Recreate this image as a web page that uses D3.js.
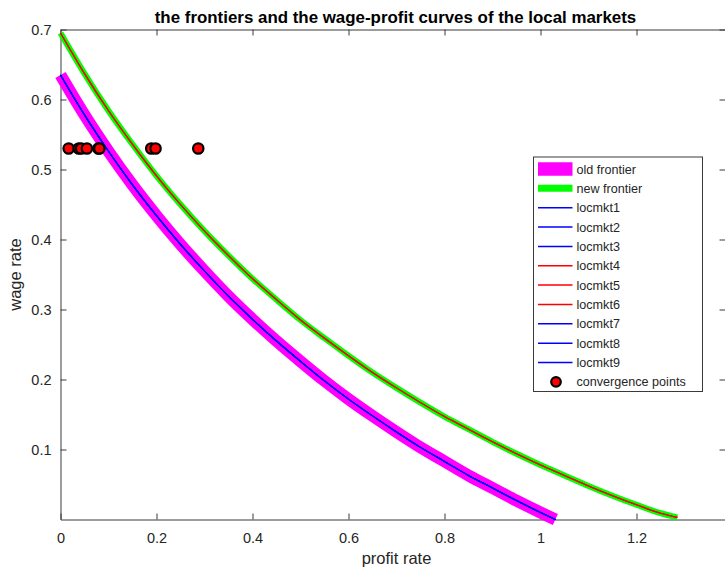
<!DOCTYPE html>
<html>
<head>
<meta charset="utf-8">
<script src="https://cdn.jsdelivr.net/npm/d3@7"></script>
<style>
  html, body { margin: 0; padding: 0; background: #ffffff; overflow: hidden; }
  text { font-family: "Liberation Sans", Arial, Helvetica, sans-serif; }
</style>
</head>
<body>
<svg id="chart" width="725" height="576"></svg>
<script>
// ---- data ---------------------------------------------------------------
// old frontier: wage rate against profit rate
const oldFrontierProfit = [0, 0.05, 0.1, 0.15, 0.2, 0.25, 0.3, 0.35, 0.4, 0.45, 0.5,
  0.55, 0.6, 0.65, 0.7, 0.75, 0.8, 0.85, 0.9, 0.95, 1.0, 1.031];
const oldFrontierWage = [0.635, 0.578, 0.526, 0.478, 0.434, 0.393, 0.355, 0.319, 0.286, 0.255, 0.226,
  0.198, 0.172, 0.148, 0.125, 0.103, 0.083, 0.063, 0.045, 0.027, 0.010, 0.0];

// new frontier
const newFrontierProfit = [0, 0.05, 0.1, 0.15, 0.2, 0.25, 0.3, 0.35, 0.4, 0.45, 0.5,
  0.55, 0.6, 0.65, 0.7, 0.75, 0.8, 0.85, 0.9, 0.95, 1.0, 1.05, 1.1, 1.15, 1.2, 1.25, 1.285];
const newFrontierWage = [0.695, 0.637, 0.584, 0.536, 0.491, 0.450, 0.412, 0.377, 0.344, 0.314, 0.285,
  0.259, 0.234, 0.210, 0.188, 0.167, 0.147, 0.129, 0.111, 0.094, 0.078, 0.063, 0.048, 0.034, 0.021, 0.009, 0.003];

// wage-profit curves of the nine local markets and the frontier each one lies on
const localMarkets = ["locmkt1", "locmkt2", "locmkt3", "locmkt4", "locmkt5",
  "locmkt6", "locmkt7", "locmkt8", "locmkt9"];
const localMarketFrontier = ["old", "old", "old", "new", "new", "new", "old", "old", "old"];
const localMarketColor = ["#0000ff", "#0000ff", "#0000ff", "#ff0000", "#ff0000",
  "#ff0000", "#0000ff", "#0000ff", "#0000ff"];

// convergence points of the local markets
const convergenceProfit = [0.017, 0.038, 0.043, 0.055, 0.079, 0.081, 0.189, 0.198, 0.287];
const convergenceWage = [0.53, 0.53, 0.53, 0.53, 0.53, 0.53, 0.53, 0.53, 0.53];

// axis ticks
const xTicks = [0, 0.2, 0.4, 0.6, 0.8, 1, 1.2];
const yTicks = [0.1, 0.2, 0.3, 0.4, 0.5, 0.6, 0.7];

// ---- layout -------------------------------------------------------------
const svg = d3.select("#chart");
const plot = { left: 60.5, right: 732.5, top: 29.5, bottom: 519.5 };
const axisColor = "#3a3a3a";

const x = d3.scaleLinear().domain([0, 1.4]).range([plot.left, plot.right]);
const y = d3.scaleLinear().domain([0, 0.7]).range([plot.bottom, plot.top]);

const pairs = (px, wy) => px.map((p, i) => [p, wy[i]]);
const frontiers = {
  old: pairs(oldFrontierProfit, oldFrontierWage),
  new: pairs(newFrontierProfit, newFrontierWage)
};

const line = d3.line()
  .x(d => x(d[0]))
  .y(d => y(d[1]))
  .curve(d3.curveMonotoneX);

// ---- axes ---------------------------------------------------------------
function styleAxis(g) {
  g.selectAll("path.domain").attr("stroke", axisColor).attr("stroke-width", 1);
  g.selectAll(".tick line").attr("stroke", axisColor).attr("stroke-width", 1);
  g.selectAll(".tick text")
    .attr("fill", "#262626")
    .style("font-family", '"Liberation Sans", Arial, sans-serif')
    .style("font-size", "14.5px");
}

svg.append("g")
  .attr("transform", `translate(0,${plot.bottom})`)
  .call(d3.axisBottom(x).tickValues(xTicks).tickSizeInner(-6).tickSizeOuter(0)
    .tickPadding(13.5).tickFormat(d3.format("~g")))
  .call(styleAxis);

svg.append("g")
  .attr("transform", `translate(0,${plot.top})`)
  .call(d3.axisTop(x).tickValues(xTicks).tickSizeInner(-6).tickSizeOuter(0).tickFormat(""))
  .call(styleAxis);

svg.append("g")
  .attr("transform", `translate(${plot.left},0)`)
  .call(d3.axisLeft(y).tickValues(yTicks).tickSizeInner(-6).tickSizeOuter(0)
    .tickPadding(9).tickFormat(d3.format("~g")))
  .call(styleAxis);

svg.append("g")
  .attr("transform", `translate(${plot.right},0)`)
  .call(d3.axisRight(y).tickValues(yTicks).tickSizeInner(-13).tickSizeOuter(0).tickFormat(""))
  .call(styleAxis);

// ---- curves -------------------------------------------------------------
svg.append("path")
  .datum(frontiers.old)
  .attr("d", line)
  .attr("fill", "none")
  .attr("stroke", "#ff00ff")
  .attr("stroke-width", 12);

svg.append("path")
  .datum(frontiers.new)
  .attr("d", line)
  .attr("fill", "none")
  .attr("stroke", "#00ff00")
  .attr("stroke-width", 6);

localMarkets.forEach((name, i) => {
  svg.append("path")
    .datum(frontiers[localMarketFrontier[i]])
    .attr("class", name)
    .attr("d", line)
    .attr("fill", "none")
    .attr("stroke", localMarketColor[i])
    .attr("stroke-width", 1.1);
});

svg.append("g")
  .selectAll("circle")
  .data(pairs(convergenceProfit, convergenceWage))
  .join("circle")
  .attr("cx", d => x(d[0]))
  .attr("cy", d => y(d[1]))
  .attr("r", 5.2)
  .attr("fill", "#ff0000")
  .attr("stroke", "#000000")
  .attr("stroke-width", 2.2);

// ---- titles -------------------------------------------------------------
const midX = (plot.left + plot.right) / 2;

svg.append("text")
  .attr("x", midX - 1)
  .attr("y", 22.5)
  .attr("text-anchor", "middle")
  .attr("fill", "#000000")
  .style("font-weight", "bold")
  .style("font-size", "16.9px")
  .text("the frontiers and the wage-profit curves of the local markets");

svg.append("text")
  .attr("x", midX)
  .attr("y", 564)
  .attr("text-anchor", "middle")
  .attr("fill", "#262626")
  .style("font-size", "16.5px")
  .text("profit rate");

svg.append("text")
  .attr("transform", `translate(20.5,${(plot.top + plot.bottom) / 2}) rotate(-90)`)
  .attr("text-anchor", "middle")
  .attr("fill", "#262626")
  .style("font-size", "16.5px")
  .text("wage rate");

// ---- legend -------------------------------------------------------------
const legendItems = [
  { label: "old frontier", type: "line", color: "#ff00ff", width: 13.5 },
  { label: "new frontier", type: "line", color: "#00ff00", width: 7 }
].concat(localMarkets.map((name, i) => ({
  label: name, type: "line", color: localMarketColor[i], width: 1.5
}))).concat([{ label: "convergence points", type: "marker" }]);

const legend = svg.append("g");
const lg = { x0: 533.5, x1: 702.5, y0: 157, y1: 391.5, firstRow: 169, rowStep: 19.35 };

legend.append("rect")
  .attr("x", lg.x0)
  .attr("y", lg.y0)
  .attr("width", lg.x1 - lg.x0)
  .attr("height", lg.y1 - lg.y0)
  .attr("fill", "#ffffff")
  .attr("stroke", axisColor)
  .attr("stroke-width", 1);

legendItems.forEach((item, i) => {
  const cy = lg.firstRow + i * lg.rowStep;
  if (item.type === "line") {
    legend.append("line")
      .attr("x1", 538).attr("x2", 572.5)
      .attr("y1", cy).attr("y2", cy)
      .attr("stroke", item.color)
      .attr("stroke-width", item.width);
  } else {
    legend.append("circle")
      .attr("cx", 556).attr("cy", cy)
      .attr("r", 4.8)
      .attr("fill", "#ff0000")
      .attr("stroke", "#000000")
      .attr("stroke-width", 2.2);
  }
  legend.append("text")
    .attr("x", 576.5)
    .attr("y", cy + 4.5)
    .attr("fill", "#262626")
    .style("font-size", "12.6px")
    .text(item.label);
});
</script>
</body>
</html>
